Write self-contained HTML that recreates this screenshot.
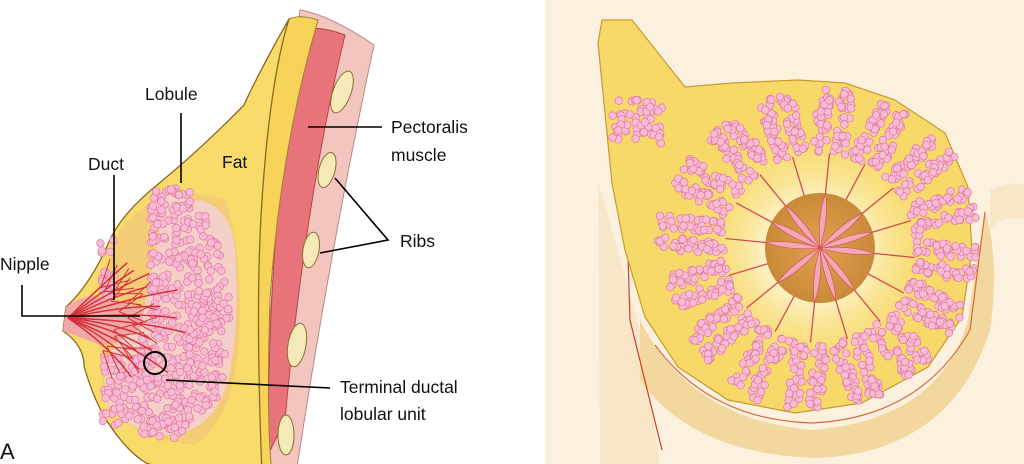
<!DOCTYPE html>
<html><head><meta charset="utf-8">
<style>
html,body{margin:0;padding:0;background:#fff;}
svg{display:block}
text{font-family:"Liberation Sans",Arial,sans-serif;fill:#111;font-size:17.5px}
</style></head>
<body>
<svg id="s" width="1024" height="464" viewBox="0 0 1024 464" xmlns="http://www.w3.org/2000/svg">
<defs>
<radialGradient id="ar" cx="0.5" cy="0.5" r="0.5"><stop offset="0" stop-color="#e0a050"/><stop offset="1" stop-color="#c98a3a"/></radialGradient>
<radialGradient id="cy" cx="0.5" cy="0.5" r="0.5"><stop offset="0.3" stop-color="#fff8e0"/><stop offset="1" stop-color="#f7dc6a" stop-opacity="0"/></radialGradient>
</defs>
<rect x="545" y="0" width="479" height="464" fill="#fcf1df"/>
<path d="M598,180 L600,464 L660,464 L640,330 Z" fill="#f7e6c8"/>
<path d="M990,190 Q1010,180 1024,185 L1024,220 Q1000,215 990,230 Z" fill="#f7e6c8"/>
<path d="M640,320 Q690,420 812,430 Q940,420 968,320 L985,210 Q1000,260 990,330 Q950,455 812,458 Q690,452 640,380 Z" fill="#f2d79e"/>
<path d="M655,345 Q710,420 812,423 Q920,418 970,330 L985,212" fill="none" stroke="#d96a3a" stroke-width="1.2"/>
<path d="M625,160 L630,320 L662,450" fill="none" stroke="#c8402a" stroke-width="1.2"/>
<path d="M602,20 L632,20 L685,87 L732,83 L798,80 L845,83 L895,100 L945,133 L968,187 L972,250 L962,317 L928,367 L862,403 L795,413 L728,400 L678,367 L645,317 L625,250 L612,183 L602,83 L598,43 Z" fill="#f7d96a" stroke="#c89a30" stroke-width="1.2"/>
<circle cx="815" cy="250" r="130" fill="url(#cy)"/>
<g id="rduct" stroke="#d84a55" stroke-width="1.3" fill="none"></g>
<circle cx="820" cy="248" r="55" fill="url(#ar)"/>
<g id="rnip"></g>
<g id="rlob"></g>
<path d="M300,10 Q330,15 374,45 Q330,250 296,474 L262,474 Q270,250 300,10 Z" fill="#f3c5bf" stroke="#b88" stroke-width="1"/>
<path d="M300,30 Q320,25 345,35 Q305,200 285,420 L268,455 Q268,220 300,30 Z" fill="#e8737a" stroke="#b44" stroke-width="1"/>
<path d="M289,19 Q300,14 318,20 Q280,150 270,300 Q266,420 272,474 L251,474 Q255,300 262,200 Q270,80 289,19 Z" fill="#f7d35a" stroke="#a08030" stroke-width="1"/>
<path d="M289,19 Q260,70 244,105 Q200,150 157,185 Q120,215 108,244 Q90,285 66,307 L63,331 Q84,345 84,366 Q92,395 105,418 Q125,450 146,463 Q180,474 209,477 L262,474 Q255,300 262,200 Q270,80 289,19 Z" fill="#f8db6a" stroke="#8a6a20" stroke-width="1.3"/>
<path d="M120,230 Q160,180 225,200 Q245,260 238,350 Q232,420 195,445 Q130,440 105,400 Q95,330 100,280 Z" fill="#f3c878" opacity="0.8"/>
<path d="M66,307 Q90,290 110,300 L150,310 L140,340 L100,345 L63,331 Z" fill="#f2a8a8"/>
<g id="llob"></g>
<g id="ducts" stroke="#d6303a" stroke-width="1.5" fill="none"></g>
<g fill="#f6e9b8" stroke="#8a7030" stroke-width="1">
<ellipse cx="342" cy="92" rx="9" ry="22" transform="rotate(20 342 92)"/>
<ellipse cx="327" cy="170" rx="8" ry="18" transform="rotate(15 327 170)"/>
<ellipse cx="311" cy="250" rx="8" ry="18" transform="rotate(10 311 250)"/>
<ellipse cx="297" cy="345" rx="9" ry="22" transform="rotate(10 297 345)"/>
<ellipse cx="286" cy="435" rx="8" ry="20"/>
</g>
<circle cx="155" cy="363" r="11" fill="none" stroke="#000" stroke-width="2"/>
<g stroke="#000" stroke-width="1.6" fill="none">
<line x1="181" y1="113" x2="181" y2="183"/>
<line x1="114" y1="175" x2="114" y2="300"/>
<polyline points="22,285 22,316 140,316"/>
<line x1="308" y1="127" x2="382" y2="127"/>
<polyline points="335,178 388,240 320,253"/>
<line x1="166" y1="380" x2="330" y2="388"/>
</g>
<text x="145" y="100">Lobule</text>
<text x="88" y="170">Duct</text>
<text x="222" y="168">Fat</text>
<text x="0" y="270">Nipple</text>
<text x="391" y="133">Pectoralis</text>
<text x="391" y="161">muscle</text>
<text x="400" y="247">Ribs</text>
<text x="340" y="393">Terminal ductal</text>
<text x="340" y="420">lobular unit</text>
<text x="0" y="459" style="font-size:22px">A</text>
</svg>
<script>
var NS="http://www.w3.org/2000/svg";
function mk(g,tag,at){var e=document.createElementNS(NS,tag);for(var k in at)e.setAttribute(k,at[k]);g.appendChild(e);return e;}
function c(g,x,y,r){mk(g,"circle",{cx:x,cy:y,r:r,fill:"#f7bcd3",stroke:"#e27aa2","stroke-width":0.7});}
var seed=3;function rnd(){seed=(seed*9301+49297)%233280;return seed/233280;}
var rg=document.getElementById("rlob"),rd=document.getElementById("rduct"),rn=document.getElementById("rnip");
var cx=820,cy=248;
for(var k=0;k<16;k++){var a=k/16*Math.PI*2+0.1;var ca=Math.cos(a),sa=Math.sin(a);
var d0=95,d1=155+rnd()*10;
mk(rd,"line",{x1:cx,y1:cy,x2:cx+ca*d0,y2:cy+sa*d0});
if(k%2==0||k%3==0)mk(rn,"path",{d:"M"+cx+","+cy+" Q"+(cx+ca*30-sa*6)+","+(cy+sa*30+ca*6)+" "+(cx+ca*55)+","+(cy+sa*55)+" Q"+(cx+ca*30+sa*6)+","+(cy+sa*30-ca*6)+" "+cx+","+cy+"Z",fill:"#f3a8b8",stroke:"#d84a55","stroke-width":0.6});
for(var b=-1;b<=1;b+=2){var px=-sa*b,py=ca*b;
for(var i=0;i<38;i++){var t=d0+rnd()*(d1-d0),w=4+rnd()*13;c(rg,cx+ca*t+px*w,cy+sa*t+py*w,3.8);}}}
for(var i=0;i<60;i++){c(rg,612+rnd()*50,100+rnd()*45,3.8);}
var lg=document.getElementById("llob");
mk(lg,"path",{d:"M150,195 Q180,180 190,200 Q230,200 235,250 Q240,330 228,380 Q215,430 170,435 Q120,430 105,400 Q100,340 140,330 Q150,280 160,230 Z",fill:"#f5d0c8"});
for(var i=0;i<650;i++){var x=140+rnd()*98,y=188+rnd()*250;
var ok=true;if(y<215&&(x<150||x>190))ok=false;if(y<250&&x<150)ok=false;
var rx=230-Math.pow((y-320)/120,2)*30;if(x>rx)ok=false;
if(y>400&&x>215-(y-400))ok=false;if(x<150&&y<330)ok=false;
if(ok)c(lg,x,y,3.8);}
for(var i=0;i<80;i++){c(lg,102+rnd()*45,355+rnd()*70,3.8);}
for(var i=0;i<20;i++){c(lg,100+rnd()*15,240+rnd()*60,3.8);}
var dg=document.getElementById("ducts");
for(var k=0;k<13;k++){var a=-0.75+k*0.125;var L=80+rnd()*40;var x2=68+Math.cos(a)*L,y2=318+Math.sin(a)*L;
var mx=68+Math.cos(a)*L*0.55,my=318+Math.sin(a)*L*0.55;
mk(dg,"path",{d:"M68,318 Q"+(mx+5)+","+(my-6)+" "+x2+","+y2});
mk(dg,"line",{x1:mx,y1:my,x2:mx+Math.cos(a-0.5)*30,y2:my+Math.sin(a-0.5)*30,"stroke-width":1});
mk(dg,"line",{x1:mx,y1:my,x2:mx+Math.cos(a+0.5)*30,y2:my+Math.sin(a+0.5)*30,"stroke-width":1});}
</script>
</body></html>
